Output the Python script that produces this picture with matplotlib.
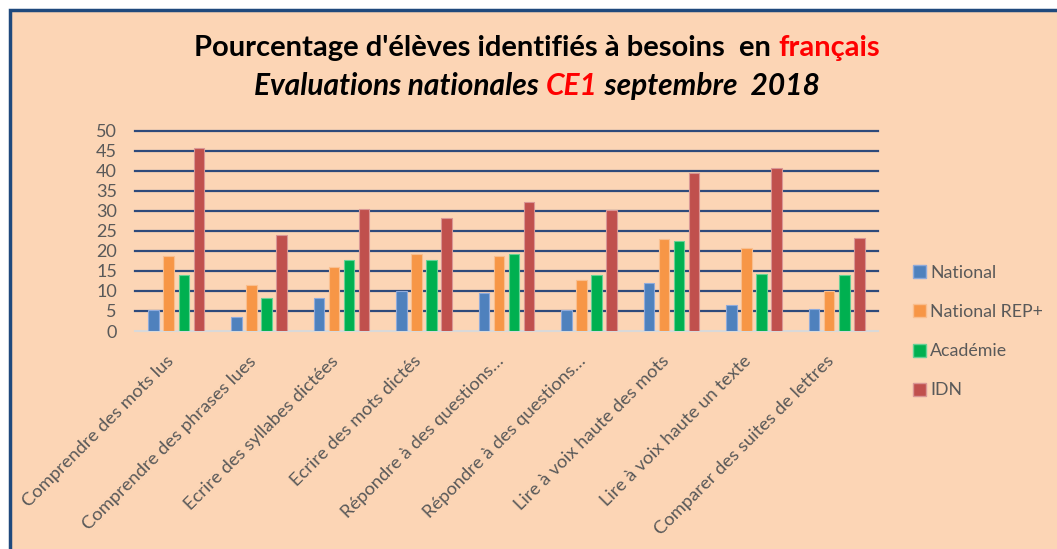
import matplotlib
matplotlib.use("Agg")
import matplotlib.pyplot as plt
from matplotlib.patches import Rectangle, Patch
import matplotlib.transforms as mtransforms
import numpy as np

categories = [
    "Comprendre des mots lus",
    "Comprendre des phrases lues",
    "Ecrire des syllabes dictées",
    "Ecrire des mots dictés",
    "Répondre à des questions…",
    "Répondre à des questions…",
    "Lire à voix haute des mots",
    "Lire à voix haute un texte",
    "Comparer des suites de lettres",
]
series_names = ["National", "National REP+", "Académie", "IDN"]
national = [5.2, 3.4, 8.2, 10.1, 9.4, 5.2, 12.0, 6.4, 5.6]
national_rep = [18.7, 11.6, 16.1, 19.1, 18.7, 12.7, 22.9, 20.6, 10.1]
academie = [13.9, 8.2, 17.6, 17.6, 19.1, 13.9, 22.4, 14.2, 13.9]
idn = [45.6, 24.0, 30.4, 28.1, 32.2, 30.1, 39.4, 40.8, 23.2]
yticks = list(range(0, 55, 5))

colors = ["#4F81BD", "#F79646", "#00B050", "#C0504D"]
edges = ["#8EAADB", "#F9BE8E", "#66D096", "#D99694"]
bg = "#FCD5B5"
txt = "#595959"
FONT = "Lato"

W, H = 1057, 549
fig = plt.figure(figsize=(W / 100, H / 100), dpi=100, facecolor="white")
# frame
frame = Rectangle((9.5 / W, -0.05), 1.1, (H - 9.5) / H + 0.05,
                  transform=fig.transFigure, facecolor=bg,
                  edgecolor="#1F497D", linewidth=2.5, zorder=-10)
fig.patches.append(frame)

ax = fig.add_axes([135 / W, 218 / H, 743 / W, 200.3 / H])
ax.set_zorder(5)
ax.set_facecolor("none")
x = np.arange(len(categories))
pitch = 0.182
bw = 0.128
data = [national, national_rep, academie, idn]
for i, vals in enumerate(data):
    ax.bar(x + (i - 1.5) * pitch, vals, width=bw, color=colors[i],
           edgecolor=edges[i], linewidth=0.8, zorder=3, label=series_names[i])

ax.set_xlim(-0.5, len(categories) - 0.5)
ax.set_ylim(0, 50)
for yv in yticks[1:]:
    ax.axhline(yv, color="#2E4A7B", linewidth=1.6, zorder=1, clip_on=False)
ax.axhline(0, color="#D9D9D9", linewidth=1.5, zorder=2, clip_on=False)
for s in ax.spines.values():
    s.set_visible(False)
ax.set_yticks(yticks)
ax.set_yticklabels([str(v) for v in yticks], fontsize=13, color=txt, family=FONT)
ax.tick_params(axis="both", length=0)
ax.tick_params(axis="y", pad=13)
ax.tick_params(axis="x", pad=10)
ax.set_xticks(x)
ax.set_xticklabels(categories, rotation=45, ha="right", rotation_mode="anchor",
                   fontsize=13.2, color=txt, family=FONT)
offset = mtransforms.ScaledTranslation(-11 / 100, -8 / 100, fig.dpi_scale_trans)
for lab in ax.get_xticklabels():
    lab.set_transform(lab.get_transform() + offset)

# legend
handles = [Patch(facecolor=colors[i], edgecolor=edges[i]) for i in range(4)]
leg = fig.legend(handles, series_names, loc="upper left",
                 bbox_to_anchor=(897 / W, 1 - 249 / H), frameon=False,
                 handlelength=0.75, handleheight=0.75, handletextpad=0.2,
                 labelspacing=1.3, prop={"family": FONT, "size": 12.8},
                 labelcolor=txt)
leg.set_zorder(6)

# title with mixed colours
fig.canvas.draw()
renderer = fig.canvas.get_renderer()


def mixed_line(parts, y, cx, **kw):
    texts = []
    widths = []
    for s, c in parts:
        t = fig.text(0, y, s, color=c, va="center", ha="left", zorder=7, **kw)
        bb = t.get_window_extent(renderer=renderer)
        texts.append(t)
        widths.append(bb.width)
    total = sum(widths)
    xpix = cx - total / 2
    for t, w in zip(texts, widths):
        t.set_x(xpix / W)
        xpix += w


mixed_line([("Pourcentage d'élèves identifiés à besoins  en ", "black"),
            ("français", "#FF0000")], 1 - 48 / H, 537,
           family=FONT, fontsize=21, fontweight="bold")
mixed_line([("Evaluations nationales ", "black"), ("CE1", "#FF0000"),
            (" septembre  2018", "black")], 1 - 86 / H, 537,
           family=FONT, fontsize=21.5, fontweight="bold", fontstyle="italic")

fig.savefig("out.png", dpi=100, facecolor="white")
